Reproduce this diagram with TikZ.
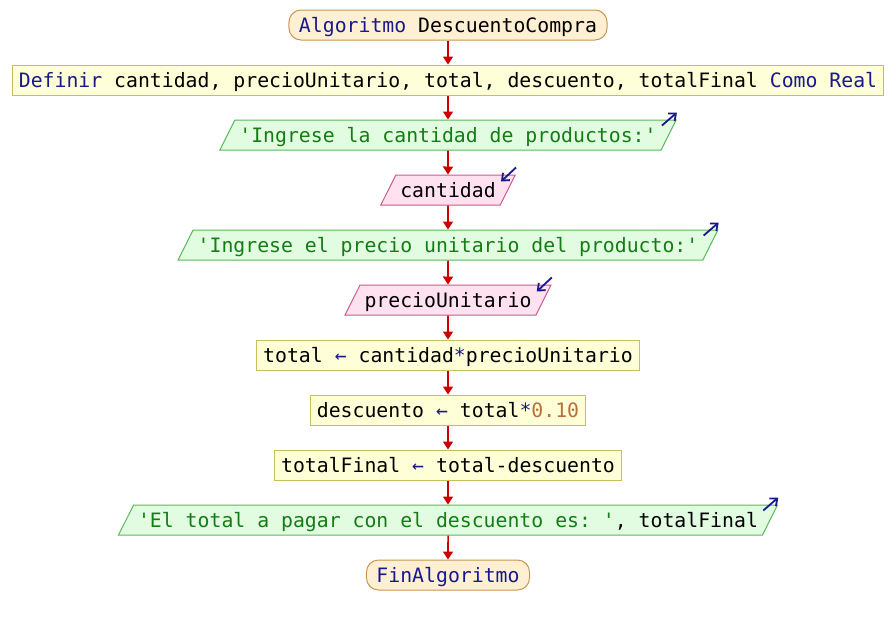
\documentclass[tikz,border=0pt]{standalone}
\usepackage{fontspec}
\setmonofont{DejaVu Sans Mono}
\usetikzlibrary{arrows.meta,shapes.geometric}
\definecolor{clavecol}{RGB}{25,25,140}
\definecolor{cadenacol}{RGB}{20,125,20}
\definecolor{numerocol}{RGB}{185,110,60}
\definecolor{termfondo}{RGB}{255,240,212}
\definecolor{termborde}{RGB}{200,150,80}
\definecolor{procfondo}{RGB}{255,255,215}
\definecolor{procborde}{RGB}{200,190,90}
\definecolor{salfondo}{RGB}{225,252,225}
\definecolor{salborde}{RGB}{90,185,90}
\definecolor{entfondo}{RGB}{255,225,240}
\definecolor{entborde}{RGB}{200,90,140}
\definecolor{flechacol}{RGB}{204,0,0}
\newcommand{\clave}[1]{\textcolor{clavecol}{#1}}
\newcommand{\cadena}[1]{\textcolor{cadenacol}{#1}}
\newcommand{\numero}[1]{\textcolor{numerocol}{#1}}
\newcommand{\asigna}{\textcolor{clavecol}{←}}
\tikzset{
    base/.style = {font=\ttfamily\fontsize{19.8}{24}\selectfont,
        text height=17pt, text depth=3pt, inner ysep=5pt, line width=1pt},
    terminal/.style = {base, draw=termborde, fill=termfondo,
        rounded corners=12pt, inner xsep=10pt},
    proceso/.style = {base, draw=procborde, fill=procfondo, inner xsep=6.5pt},
    salida/.style = {base, trapezium, trapezium left angle=63.4,
        trapezium right angle=116.6, draw=salborde, fill=salfondo, inner xsep=4.5pt},
    entrada/.style = {salida, draw=entborde, fill=entfondo},
    flecha/.style = {draw=flechacol, line width=1.6pt, -{Triangle[length=8pt,width=10pt]}},
    icono/.style = {draw=clavecol, line width=1.8pt, -{Straight Barb[length=6pt,width=10pt]}}
}
\begin{document}
\begin{tikzpicture}[x=1pt, y=-1pt]
              \fill[white] (0,0) rectangle (896,625);
              \useasboundingbox (0,0) rectangle (896,625);
                \node[terminal] (inicio) at (448,25) {\clave{Algoritmo} DescuentoCompra};
                \node[proceso] (def) at (448,80) {\clave{Definir} cantidad, precioUnitario, total, descuento, totalFinal \clave{Como Real}};
                \node[salida] (esc1) at (448,135) {\cadena{'Ingrese la cantidad de productos:'}};
                \node[entrada] (cant) at (448,190) {cantidad};
                \node[salida] (esc2) at (448,245) {\cadena{'Ingrese el precio unitario del producto:'}};
                \node[entrada] (prec) at (448,300) {precioUnitario};
                \node[proceso] (tot) at (448,355) {total \asigna{} cantidad\clave{*}precioUnitario};
                \node[proceso] (desc) at (448,410) {descuento \asigna{} total\clave{*}\numero{0.10}};
                \node[proceso] (totf) at (448,465) {totalFinal \asigna{} total-descuento};
                \node[salida] (esc3) at (448,520) {\cadena{'El total a pagar con el descuento es: '}, totalFinal};
                \node[terminal] (fin) at (448,575) {\clave{FinAlgoritmo}};
                \draw [flecha] (inicio) -- (def);
                \draw [flecha] (def) -- (esc1);
                \draw [flecha] (esc1) -- (cant);
                \draw [flecha] (cant) -- (esc2);
                \draw [flecha] (esc2) -- (prec);
                \draw [flecha] (prec) -- (tot);
                \draw [flecha] (tot) -- (desc);
                \draw [flecha] (desc) -- (totf);
                \draw [flecha] (totf) -- (esc3);
                \draw [flecha] (esc3) -- (fin);
                % iconos de entrada / salida
                \draw [icono] ([xshift=-15pt,yshift=-6pt]esc1.top right corner) -- ([yshift=7pt]esc1.top right corner);
                \draw [icono] ([xshift=-15pt,yshift=-6pt]esc2.top right corner) -- ([yshift=7pt]esc2.top right corner);
                \draw [icono] ([xshift=-15pt,yshift=-6pt]esc3.top right corner) -- ([yshift=7pt]esc3.top right corner);
                \draw [icono] ([yshift=7pt]cant.top right corner) -- ([xshift=-15pt,yshift=-7pt]cant.top right corner);
                \draw [icono] ([yshift=7pt]prec.top right corner) -- ([xshift=-15pt,yshift=-7pt]prec.top right corner);
            \end{tikzpicture}
\end{document}
